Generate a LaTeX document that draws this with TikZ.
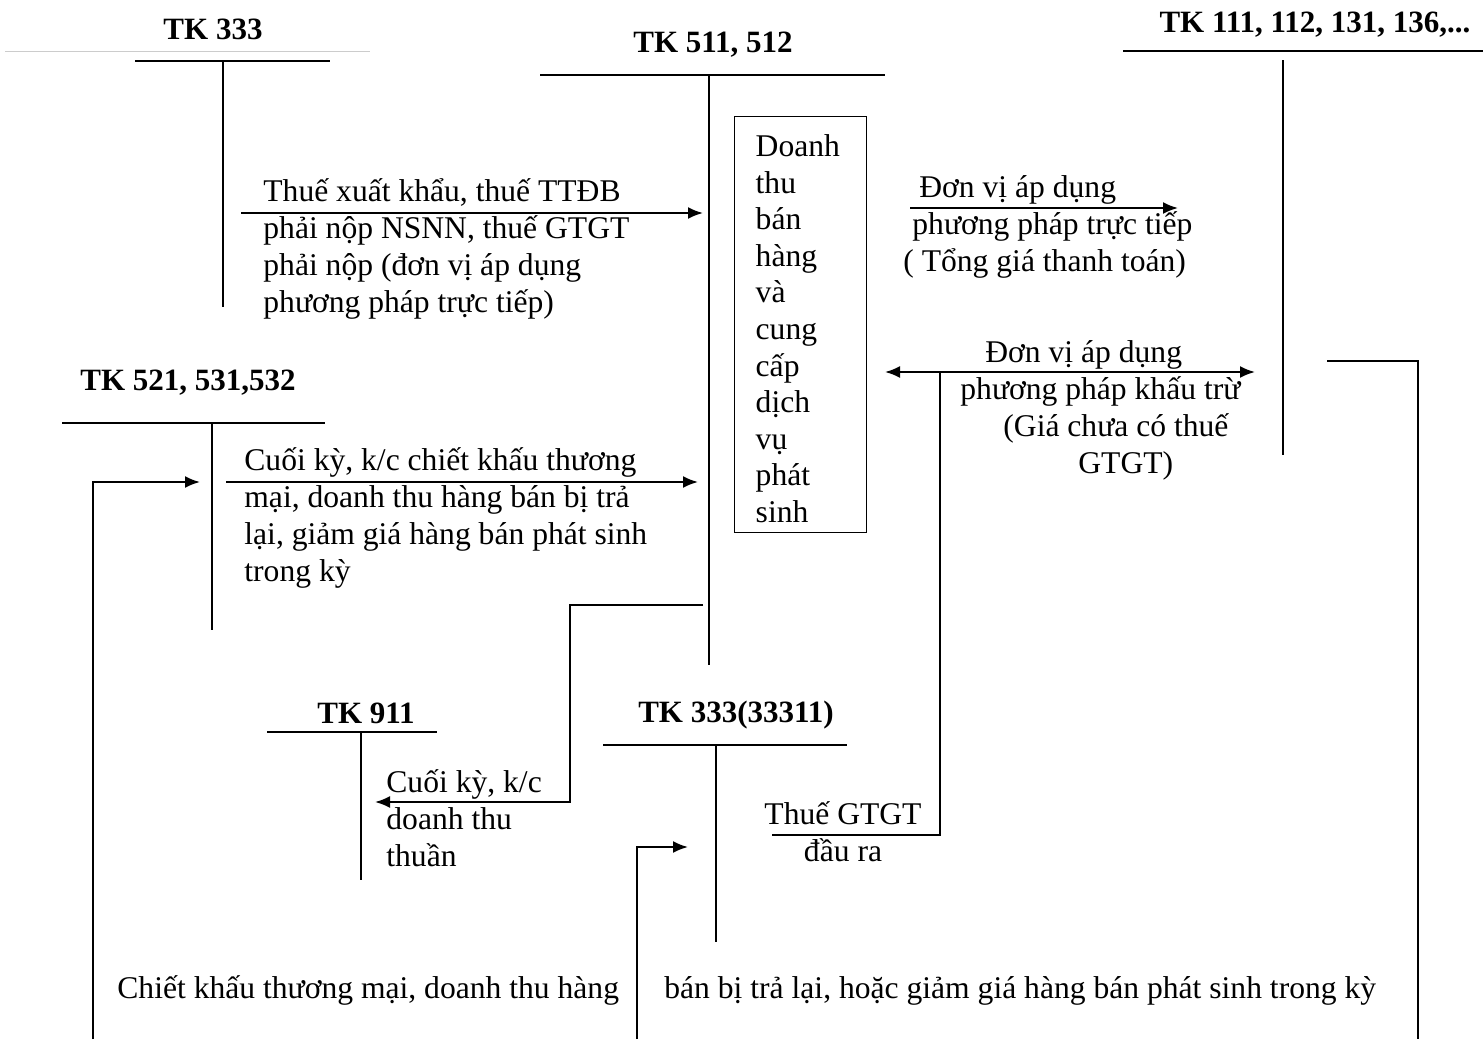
\documentclass[tikz,border=0pt]{standalone}
\usepackage{fontspec}
\setmainfont{Liberation Serif}
\usetikzlibrary{positioning,arrows.meta}

\begin{document}
\begin{tikzpicture}[x=0.5pt, y=-0.5pt, >={Latex[length=7.5pt,width=6pt]},
        acc/.style={line width=1pt},
        head/.style={font=\fontsize{15.5}{18.4}\selectfont\bfseries, inner sep=0pt, anchor=base},
        txt/.style={font=\fontsize{15.8}{18.4}\selectfont, inner sep=0pt, align=left, anchor=base west}]
    \useasboundingbox (0,0) rectangle (1483,1039);

    % Account headings
    \node[head] (h333) at (213,39) {TK 333};
    \node[head] (h511) at (713,52) {TK 511, 512};
    \node[head] (h111) at (1315,32) {TK 111, 112, 131, 136,...};
    \node[head] (h521) at (188,390) {TK 521, 531,532};
    \node[head] (h911) at (366,723) {TK 911};
    \node[head] (h33311) at (736,722) {TK 333(33311)};

    % T-accounts
    \draw[gray!40, line width=0.5pt] (5,51) -- (370,51);
    \draw[acc] (135,61) -- (330,61);
    \draw[acc] (223,61) -- (223,307);
    \draw[gray!50, line width=0.3pt, double, double distance=0.7pt] (553,65) -- (898,65);
    \draw[acc] (540,75) -- (885,75);
    \draw[acc] (709,75) -- (709,665);
    \draw[acc] (1123,51) -- (1483,51);
    \draw[acc] (1283,60) -- (1283,455);
    \draw[acc] (62,423) -- (325,423);
    \draw[acc] (212,423) -- (212,630);
    \draw[acc] (267,732) -- (437,732);
    \draw[acc] (361,732) -- (361,880);
    \draw[acc] (603,745) -- (847,745);
    \draw[acc] (716,745) -- (716,942);

    % Revenue box
    \node[draw, line width=0.7pt, anchor=north west, minimum width=66pt, minimum height=208pt,
        text width=45pt, inner xsep=10.5pt, align=left, font=\fontsize{15.8}{18.3}\selectfont] (dtbh) at (734,116)
        {\rule{0pt}{15pt}Doanh\\thu\\bán\\hàng\\và\\cung\\cấp\\dịch\\vụ\\phát\\sinh};

    % Ends of the connectors
    \coordinate (thueS) at (241,213);
    \coordinate (thueE) at (703,213);
    \coordinate (ttS) at (910,208);
    \coordinate (ttE) at (1178,208);
    \coordinate (ktL) at (885,372);
    \coordinate (ktR) at (1255,372);
    \coordinate (ktB) at (940,372);
    \coordinate (gtgt) at (772,835);
    \coordinate (ckS) at (226,482);
    \coordinate (ckE) at (698,482);
    \coordinate (trL) at (93,1039);
    \coordinate (trLE) at (200,482);
    \coordinate (kcS) at (703,605);
    \coordinate (kcM) at (570,802);
    \coordinate (kcE) at (375,802);
    \coordinate (trR) at (1327,361);
    \coordinate (trRB) at (1418,1039);
    \coordinate (trM) at (637,1039);
    \coordinate (trME) at (688,847);

    % Connectors
    \draw[acc, ->] (thueS) -- (thueE);
    \draw[acc, ->] (ttS) -- (ttE);
    \draw[acc, <->] (ktL) -- (ktR);
    \draw[acc] (ktB) |- (gtgt);
    \draw[acc, ->] (ckS) -- (ckE);
    \draw[acc, ->] (trL) |- (trLE);
    \draw[acc, ->] (kcS) -| (kcM) -- (kcE);
    \draw[acc] (trR) -| (trRB);
    \draw[acc, ->] (trM) |- (trME);

    % Labels (base = last line)
    \node[txt] (lthue) at (263,312) {Thuế xuất khẩu, thuế TTĐB\\phải nộp NSNN, thuế GTGT\\phải nộp (đơn vị áp dụng\\phương pháp trực tiếp)};
    \node[txt] (ltt) at (903,271) {\hspace*{8pt}Đơn vị áp dụng\\\hspace*{4.5pt}phương pháp trực tiếp\\( Tổng giá thanh toán)};
    \node[txt] (lkt) at (960,473) {\hspace*{12.5pt}Đơn vị áp dụng\\phương pháp khấu trừ\\\hspace*{21.5pt}(Giá chưa có thuế\\\hspace*{59pt}GTGT)};
    \node[txt] (lck) at (244,581) {Cuối kỳ, k/c chiết khấu thương\\mại, doanh thu hàng bán bị trả\\lại, giảm giá hàng bán phát sinh\\trong kỳ};
    \node[txt] (lkc) at (386,866) {Cuối kỳ, k/c\\doanh thu\\thuần};
    \node[txt, align=center, anchor=base] (lgtgt) at (843,861) {Thuế GTGT\\đầu ra};
    \node[txt] (lbot1) at (117,998) {Chiết khấu thương mại, doanh thu hàng};
    \node[txt] (lbot2) at (664,998) {bán bị trả lại, hoặc giảm giá hàng bán phát sinh trong kỳ};
\end{tikzpicture}
\end{document}
